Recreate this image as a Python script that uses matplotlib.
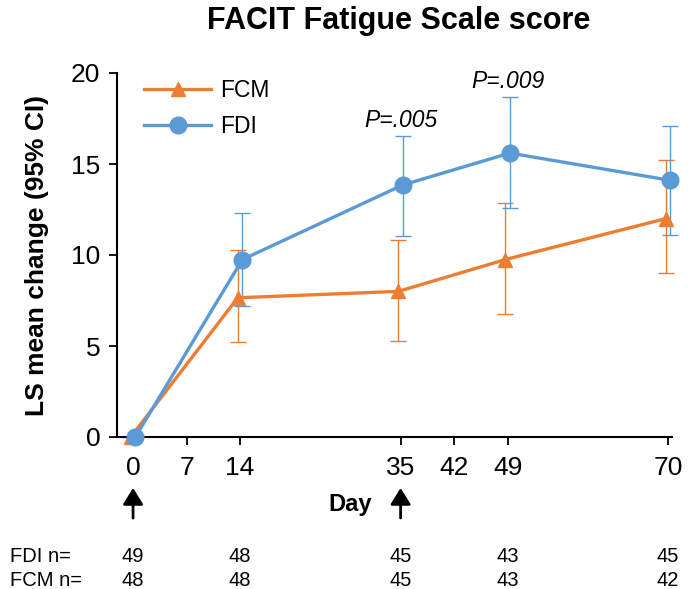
import numpy as np
import matplotlib
matplotlib.use("Agg")
import matplotlib.pyplot as plt

plt.rcParams['font.family'] = ['Liberation Sans', 'DejaVu Sans']

# study days and LS mean change with 95% CI bounds
days = [0, 14, 35, 49, 70]
fcm_mean = [0.0, 7.65, 8.0, 9.75, 12.0]
fcm_lo = [0.0, 5.2, 5.3, 6.75, 9.0]
fcm_hi = [0.0, 10.3, 10.8, 12.85, 15.2]
fdi_mean = [0.0, 9.75, 13.85, 15.6, 14.1]
fdi_lo = [0.0, 7.2, 11.05, 12.6, 11.1]
fdi_hi = [0.0, 12.3, 16.55, 18.7, 17.1]

xticks = [0, 7, 14, 35, 42, 49, 70]
n_days = [0, 14, 35, 49, 70]
fdi_n = [49, 48, 45, 43, 45]
fcm_n = [48, 48, 45, 43, 42]
pvals = [(35, 16.55, "P=.005"), (49, 18.7, "P=.009")]
arrow_days = [0, 35]

ORANGE = "#ED7D31"
BLUE = "#5B9BD5"

fig = plt.figure(figsize=(6.91, 5.89), dpi=100)
ax = fig.add_axes([117/691, 1-437/589, (672-117)/691, (437-73)/589])

def draw(mean, lo, hi, shift, color, marker, ms, label):
    x = np.array(days) + shift
    m = np.array(mean)
    yerr = [m - np.array(lo), np.array(hi) - m]
    ax.errorbar(x, m, yerr=yerr, fmt="none", ecolor=color, elinewidth=1.0,
                capsize=5.5, capthick=1.0, clip_on=False, zorder=2)
    ax.plot(x, m, color=color, lw=2.4, marker=marker, ms=ms, label=label,
            clip_on=False, zorder=3)

draw(fcm_mean, fcm_lo, fcm_hi, -0.3, ORANGE, "^", 10.5, "FCM")
draw(fdi_mean, fdi_lo, fdi_hi, 0.3, BLUE, "o", 12, "FDI")

ax.set_xlim(-2.1, 70.5)
ax.set_ylim(0, 20)
ax.set_xticks(xticks)
ax.set_yticks([0, 5, 10, 15, 20])
ax.tick_params(direction="out", length=6, width=1.3, labelsize=19)
ax.tick_params(axis="x", pad=8)
ax.tick_params(axis="y", pad=6)
for s in ["top", "right"]:
    ax.spines[s].set_visible(False)
for s in ["left", "bottom"]:
    ax.spines[s].set_linewidth(1.5)

ax.set_ylabel("LS mean change (95% CI)", fontsize=19, fontweight="bold", labelpad=16)
fig.text(399/691, 1-21/589, "FACIT Fatigue Scale score", ha="center", va="center",
         fontsize=22, fontweight="bold")

for d, top, txt in pvals:
    ax.text(d, top + 0.85, txt, ha="center", va="center", fontsize=16.5, style="italic")

ax.legend(loc="upper left", bbox_to_anchor=(0.012, 1.04), frameon=False, fontsize=16.5,
          handlelength=2.9, labelspacing=0.55, handletextpad=0.4)

# day axis caption and dosing arrows
fig.text(350/691, 1-505/589, "Day", fontsize=17, fontweight="bold",
         ha="center", va="center")
for d in arrow_days:
    ax.annotate("", xy=(d, 1-488/589), xytext=(d, 1-518/589),
                xycoords=("data", "figure fraction"), textcoords=("data", "figure fraction"),
                arrowprops=dict(arrowstyle="-|>,head_length=0.45,head_width=0.28",
                                color="black", lw=2.0, mutation_scale=22,
                                shrinkA=0, shrinkB=0))

# patient counts under the axis
fig.text(10/691, 1-557/589, "FDI n=", fontsize=14.5, va="center")
fig.text(10/691, 1-581/589, "FCM n=", fontsize=14.5, va="center")
for d, a, b in zip(n_days, fdi_n, fcm_n):
    ax.annotate(str(a), xy=(d, 1-557/589), xycoords=("data", "figure fraction"),
                ha="center", va="center", fontsize=14.5, annotation_clip=False)
    ax.annotate(str(b), xy=(d, 1-581/589), xycoords=("data", "figure fraction"),
                ha="center", va="center", fontsize=14.5, annotation_clip=False)

fig.savefig("out.png", dpi=100)
